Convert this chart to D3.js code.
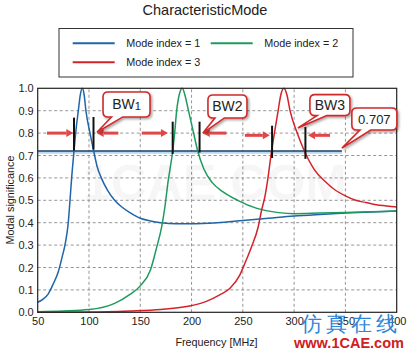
<!DOCTYPE html>
<html><head><meta charset="utf-8">
<script src="https://cdn.jsdelivr.net/npm/d3@7"></script>
<style>
body{margin:0;background:#fff;}
text{font-family:"Liberation Sans",Arial,sans-serif;}
</style></head>
<body><svg id="c" width="411" height="350"></svg>
<script>
// ---------- data ----------
const seriesNames = ["Mode index = 1","Mode index = 2","Mode index = 3"];
const mode1 = [[50,0.045],[55,0.058],[60,0.08],[65,0.125],[70,0.18],[74,0.25],[77,0.31],[79.8,0.40],[81.5,0.50],[83.1,0.60],[85.4,0.72],[87,0.80],[89.6,0.90],[91.5,0.97],[93.5,1.0],[95.3,0.97],[97,0.90],[101,0.80],[104.6,0.72],[108,0.65],[112,0.60],[118,0.545],[125,0.50],[132,0.47],[140,0.445],[150,0.42],[160,0.408],[170,0.40],[185,0.395],[200,0.395],[225,0.40],[250,0.41],[275,0.42],[300,0.43],[325,0.437],[350,0.443],[375,0.448],[400,0.452]];
const mode2 = [[50,0.003],[75,0.006],[100,0.012],[125,0.04],[140,0.08],[150,0.118],[160,0.19],[166,0.29],[170.8,0.38],[174,0.47],[177,0.58],[181.6,0.72],[183.5,0.8],[185.5,0.9],[188.5,0.98],[191,1.0],[193.5,0.97],[197,0.9],[202,0.8],[206,0.72],[212,0.64],[220,0.58],[230,0.54],[245,0.50],[263,0.465],[285,0.445],[300,0.44],[325,0.443],[350,0.446],[375,0.449],[400,0.452]];
const mode3 = [[50,0.0],[100,0.001],[140,0.006],[170,0.013],[198,0.028],[215,0.05],[227,0.077],[237.5,0.107],[247,0.166],[252,0.219],[258.5,0.293],[265,0.382],[268,0.45],[271.5,0.516],[274.5,0.6],[278,0.72],[281.3,0.814],[284.5,0.903],[287,0.97],[290,1.0],[293,0.97],[296,0.90],[303,0.80],[310,0.72],[320,0.635],[330,0.585],[340,0.546],[350,0.52],[360,0.50],[370,0.49],[380,0.48],[390,0.475],[400,0.47]];
const xTicks = [50,100,150,200,250,300,350,400];
const yTicks = [0,0.1,0.2,0.3,0.4,0.5,0.6,0.7,0.8,0.9,1.0];
const thresholdLevel = 0.72;      // drawn "0.707" line
const thresholdEnd = 346.6;       // MHz where line stops
// bandwidth edge markers [freq, top value, bottom value]
const bwEdges = [[85.4,0.869,0.722],[104.4,0.872,0.727],[181.6,0.851,0.707],[207.8,0.851,0.713],[278.5,0.833,0.689],[311,0.827,0.685]];
// arrows [fromFreq, toFreq, level]
const bwArrows = [[59,84.7,0.80],[128.6,107.5,0.80],[151.4,177,0.80],[234,211,0.80],[252,276.3,0.79],[335,313.5,0.79]];
// callouts: label, sub, centre freq, centre value, tip freq, tip value
const callouts = [["BW","1",136.6,0.928,107.8,0.804],["BW2","",235,0.919,211.1,0.800],["BW3","",334.9,0.925,303.7,0.823],["0.707","",378.2,0.863,346.6,0.733]];

// ---------- layout ----------
const W=411,H=350;
const m={l:37.7,r:411-396.7,t:88.3,b:350-312.3};
const svg=d3.select("#c");
const x=d3.scaleLinear().domain([50,400]).range([m.l,W-m.r]);
const y=d3.scaleLinear().domain([0,1]).range([H-m.b,m.t]);
const colors=["#1f65a8","#1f9a5e","#d2232a"];

svg.append("rect").attr("width",W).attr("height",H).attr("fill","#fff");

// title
svg.append("text").attr("x",205).attr("y",15).attr("text-anchor","middle").attr("font-size",14.5).attr("fill","#222").text("CharacteristicMode");

// legend
const lg=svg.append("g");
lg.append("rect").attr("x",59).attr("y",28.5).attr("width",294).attr("height",48.5).attr("fill","#fff").attr("stroke","#333").attr("stroke-width",1);
const legPos=[[72.7,43.3],[210.7,43.3],[72.7,62.3]];
seriesNames.forEach((n,i)=>{
  const [lx,ly]=legPos[i];
  lg.append("line").attr("x1",lx).attr("x2",lx+42).attr("y1",ly).attr("y2",ly).attr("stroke",colors[i]).attr("stroke-width",2);
  lg.append("text").attr("x",lx+53.5).attr("y",ly+4).attr("font-size",10.8).attr("fill","#222").text(n);
});

// grid
const g=svg.append("g");
g.selectAll(".vg").data(xTicks.slice(1,-1)).join("line").attr("x1",d=>x(d)).attr("x2",d=>x(d)).attr("y1",y(0)).attr("y2",y(1))
 .attr("stroke","#8a8a8a").attr("stroke-width",0.9).attr("stroke-dasharray","3,2.5");
g.selectAll(".hg").data(yTicks.slice(1,-1)).join("line").attr("y1",d=>y(d)).attr("y2",d=>y(d)).attr("x1",x(50)).attr("x2",x(400))
 .attr("stroke","#8a8a8a").attr("stroke-width",0.9).attr("stroke-dasharray","3,2.5");

// faint watermark
svg.append("text").attr("x",215).attr("y",200).attr("text-anchor","middle").attr("font-size",50).attr("font-weight","bold")
 .attr("fill","#000").attr("fill-opacity",0.035).text("1CAE.COM");

// axes
const xa=svg.append("g").attr("transform",`translate(0,${y(0)})`).call(d3.axisBottom(x).tickValues(xTicks).tickFormat(d3.format("d")).tickSize(0).tickPadding(5));
const ya=svg.append("g").attr("transform",`translate(${x(50)},0)`).call(d3.axisLeft(y).tickValues(yTicks).tickFormat(d3.format(".1f")).tickSize(0).tickPadding(4));
[xa,ya].forEach(a=>{a.select(".domain").remove();a.selectAll("text").attr("font-size",11).attr("fill","#222").attr("font-family","Liberation Sans,Arial,sans-serif");});

// threshold line
svg.append("line").attr("x1",x(50)).attr("x2",x(thresholdEnd)).attr("y1",y(thresholdLevel)+1.5).attr("y2",y(thresholdLevel)+1.5).attr("stroke","#b8d8ee").attr("stroke-width",2.5);
svg.append("line").attr("x1",x(50)).attr("x2",x(thresholdEnd)).attr("y1",y(thresholdLevel)).attr("y2",y(thresholdLevel)).attr("stroke","#1d3f63").attr("stroke-width",1.6);

// curves
const line=d3.line().x(d=>x(d[0])).y(d=>y(d[1])).curve(d3.curveMonotoneX);
[mode1,mode2,mode3].forEach((s,i)=>{
  svg.append("path").datum(s).attr("d",line).attr("fill","none").attr("stroke",colors[i]).attr("stroke-width",1.5);
});

// frame
svg.append("rect").attr("x",x(50)).attr("y",y(1)).attr("width",x(400)-x(50)).attr("height",y(0)-y(1)).attr("fill","none").attr("stroke","#222").attr("stroke-width",1.2);

// bandwidth edges
svg.selectAll(".bw").data(bwEdges).join("line").attr("x1",d=>x(d[0])).attr("x2",d=>x(d[0])).attr("y1",d=>y(d[1])).attr("y2",d=>y(d[2]))
 .attr("stroke","#111").attr("stroke-width",2);

// arrows
const defs=svg.append("defs");
bwArrows.forEach(a=>{
  const x1=x(a[0]),x2=x(a[1]),yy=y(a[2]);
  const dir=Math.sign(x2-x1);
  const hl=7, hw=4;
  svg.append("line").attr("x1",x1).attr("x2",x2-dir*hl).attr("y1",yy).attr("y2",yy).attr("stroke","#e0474a").attr("stroke-width",3);
  svg.append("path").attr("d",`M${x2},${yy}L${x2-dir*hl},${yy-hw}L${x2-dir*hl},${yy+hw}Z`).attr("fill","#e0474a");
});

// callouts
const flt=defs.append("filter").attr("id","sh").attr("x","-20%").attr("y","-20%").attr("width","150%").attr("height","150%");
flt.append("feDropShadow").attr("dx",1.5).attr("dy",1.5).attr("stdDeviation",1).attr("flood-color","#000").attr("flood-opacity",0.35);
const boxSize={"BW":[47,25],"BW2":[39,23],"BW3":[40,21],"0.707":[45,22]};
callouts.forEach(c=>{
  const cx=x(c[2]),cy=y(c[3]),tx=x(c[4]),ty=y(c[5]);
  const [bw,bh]=boxSize[c[0]];
  const L=cx-bw/2,R=cx+bw/2,T=cy-bh/2,B=cy+bh/2,r=5;
  const a1=L+bw*0.18,a2=L+bw*0.42;
  const d=`M${L+r},${T}H${R-r}Q${R},${T} ${R},${T+r}V${B-r}Q${R},${B} ${R-r},${B}H${a2}L${tx},${ty}L${a1},${B}H${L+r}Q${L},${B} ${L},${B-r}V${T+r}Q${L},${T} ${L+r},${T}Z`;
  svg.append("path").attr("d",d).attr("fill","#fff").attr("stroke","#cf2a2a").attr("stroke-width",1.6).attr("filter","url(#sh)");
  const t=svg.append("text").attr("x",cx).attr("y",cy+5).attr("text-anchor","middle").attr("font-size",c[0]==="0.707"?13:14).attr("fill","#222");
  t.append("tspan").text(c[0]);
  if(c[1]) t.append("tspan").attr("font-size",11).attr("dy",1).text(c[1]);
});

// axis titles
svg.append("text").attr("transform","translate(14,200) rotate(-90)").attr("text-anchor","middle").attr("font-size",10.8).attr("fill","#222").text("Modal significance");
svg.append("text").attr("x",216.5).attr("y",346).attr("text-anchor","middle").attr("font-size",10.8).attr("fill","#222").text("Frequency [MHz]");

// site watermark
svg.append("text").attr("x",351).attr("y",331).attr("text-anchor","middle").attr("font-size",21).attr("fill","#2d86d8").attr("font-family","Noto Sans CJK SC").attr("letter-spacing",4).text("仿真在线");
svg.append("text").attr("x",349).attr("y",348).attr("text-anchor","middle").attr("font-size",14.5).attr("font-weight","bold").attr("fill","#d02020").text("www.1CAE.com");
</script></body></html>
